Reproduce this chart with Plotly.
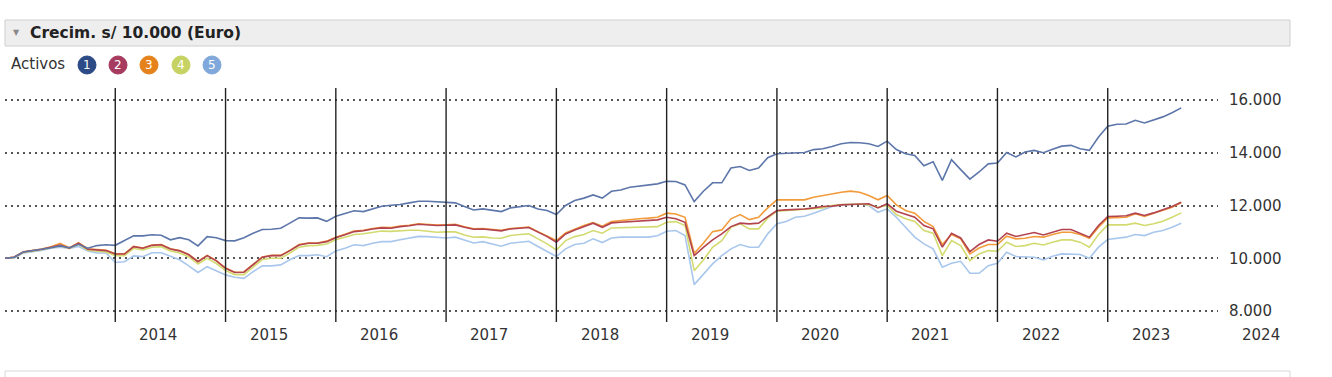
import plotly.graph_objects as go

# ---- data (monthly index 0..128) ----
years = ["2014", "2015", "2016", "2017", "2018", "2019", "2020", "2021", "2022", "2023", "2024"]
y_ticks = [8000, 10000, 12000, 14000, 16000]
y_tick_text = ["8.000", "10.000", "12.000", "14.000", "16.000"]
legend_labels = ["1", "2", "3", "4", "5"]

serie_1 = [10000,10040,10240,10280,10340,10400,10470,10400,10530,10380,
           10480,10510,10490,10670,10850,10850,10890,10870,10700,10780,
           10700,10470,10820,10780,10670,10660,10780,10950,11090,11100,
           11140,11330,11530,11520,11530,11400,11590,11700,11800,11770,
           11880,11970,12010,12040,12100,12160,
           12160,12140,12110,12100,11960,11830,11870,11810,11770,11910,
           11960,12000,11870,11810,11660,12000,12190,12280,12400,12280,
           12540,12590,12690,12730,12760,12820,12920,12910,12780,12150,
           12540,12860,12860,13420,13480,13330,13420,13810,13960,13970,
           13990,14010,14120,14150,
           14240,14340,14390,14380,14340,14240,14440,14120,13960,13900,
           13510,13660,12950,13740,13360,13000,13270,13580,13610,14010,
           13840,14030,14090,14000,14130,14250,14280,14150,14090,14600,
           15010,15080,15090,15230,15130,15250,15360,15520,15700]

serie_2 = [10000,10040,10240,10280,10340,10420,10500,10380,10570,10340,
           10320,10290,10160,10160,10440,10380,10490,10510,10350,10280,
           10130,9870,10100,9900,9620,9460,9470,9750,10040,10100,
           10100,10290,10500,10570,10570,10630,10780,10890,11010,11040,
           11110,11150,11140,11200,11230,11290,
           11265,11240,11250,11265,11175,11100,11110,11075,11040,11110,
           11150,11165,10990,10820,10610,10920,11075,11200,11330,11175,
           11340,11365,11390,11415,11430,11455,11555,11495,11365,10100,
           10415,10695,10925,11200,11330,11305,11330,11580,11810,11835,
           11845,11870,11910,11960,
           11975,12025,12040,12065,12065,11910,12065,11785,11660,11555,
           11240,11115,10420,10950,10770,10255,10520,10695,10645,10950,
           10825,10900,10975,10885,10985,11090,11090,10950,10800,11240,
           11585,11595,11610,11710,11620,11720,11835,11960,12125]

serie_3 = [10000,10050,10250,10290,10350,10440,10560,10400,10590,10360,
           10330,10300,10170,10170,10450,10390,10500,10520,10360,10290,
           10140,9880,10110,9910,9630,9470,9480,9760,10050,10110,
           10110,10300,10520,10580,10580,10650,10800,10910,11030,11060,
           11130,11170,11160,11220,11250,11310,
           11285,11260,11270,11285,11195,11120,11130,11095,11060,11130,
           11170,11185,11010,10840,
           10670,10960,11115,11240,11355,11215,11390,11430,11455,11495,
           11520,11555,11710,11680,11555,10190,10570,11010,11075,11495,
           11655,11465,11555,11910,12215,12215,12225,12215,12315,12380,
           12445,12505,12545,12505,12380,12215,12380,12025,11810,11710,
           11395,11205,10520,10900,10735,10165,10390,10520,10520,10835,
           10735,10760,10825,10800,10900,10985,10985,10900,10760,11175,
           11530,11530,11555,11685,11585,11710,11810,11935,12115]

serie_4 = [10000,10030,10220,10260,10320,10400,10470,10370,10530,10300,
           10260,10240,10100,10100,10370,10320,10420,10440,10280,10200,
           10050,9780,10000,9800,9530,9380,9380,9650,9950,10000,
           10000,10200,10420,10480,10490,10540,10700,10800,10900,10930,
           10990,11030,11020,11050,11060,11060,
           11010,10985,11000,11000,10885,10795,10810,10770,10760,10860,
           10900,10925,10735,10545,10315,10670,10820,10900,11050,10950,
           11150,11165,11175,11175,11190,11200,11365,11390,11240,9530,
           9935,10415,10670,11175,11305,11115,11115,11520,11785,11810,
           11810,11835,11870,11910,
           12000,12040,12050,12065,12025,11935,12000,11660,11495,11395,
           11050,10950,10100,10670,10480,9910,10165,10290,10265,10610,
           10445,10480,10570,10505,10610,10695,10695,10610,10420,10900,
           11265,11265,11265,11330,11240,11305,11405,11555,11720]

serie_5 = [10000,10000,10200,10240,10300,10380,10420,10370,10450,10280,
           10200,10200,9840,9870,10090,10060,10210,10210,10060,9940,
           9710,9460,9680,9520,9370,9280,9240,9490,9710,9710,
           9750,9940,10100,10100,10130,10060,10280,10380,10510,10480,
           10570,10630,10630,10700,10760,10830,
           10820,10800,10770,10800,10695,10580,10630,10545,10455,10570,
           10595,10645,10445,10265,10065,10355,10520,10570,10735,10595,
           10770,10800,10800,10800,10800,10850,11025,11050,10860,9000,
           9405,9785,10100,10355,10520,10415,10415,10925,11305,11390,
           11555,11595,11710,11835,
           11960,12025,12040,12065,12000,11745,11875,11555,11175,10800,
           10545,10355,9660,9810,9885,9430,9430,9720,9810,10230,
           10065,10040,10040,9935,10075,10165,10165,10140,10000,10420,
           10710,10760,10800,10900,10860,10985,11050,11175,11330]

series = [serie_1, serie_2, serie_3, serie_4, serie_5]
line_colors = ["#5d76aa", "#b3444f", "#f29b3a", "#d3db70", "#a9c7ec"]
dot_colors = ["#2b4a86", "#a63a5f", "#e5821c", "#c6d262", "#80a8da"]

# ---- geometry helpers (pixel -> paper) ----
W, H = 1332, 377
L, R, T, B = 5, 1218, 88, 322
X_MAX = 132
def px(x):
    return (x - L) / (R - L)
def py(y):
    return (B - y) / (B - T)

fig = go.Figure()
for k in [4, 3, 2, 1, 0]:
    s = series[k]
    fig.add_trace(go.Scatter(
        x=list(range(len(s))), y=s, mode="lines",
        line=dict(color=line_colors[k], width=1.6),
        hoverinfo="skip", showlegend=False))

shapes = []
for k in range(1, 11):
    shapes.append(dict(type="line", xref="x", yref="paper", x0=12 * k, x1=12 * k,
                       y0=0, y1=1, line=dict(color="#222222", width=1.4)))
shapes.append(dict(type="rect", xref="paper", yref="paper", x0=px(5), x1=px(1290),
                   y0=py(46), y1=py(20), fillcolor="#eeeeee",
                   line=dict(color="#cfcfcf", width=1), layer="below"))
shapes.append(dict(type="rect", xref="paper", yref="paper", x0=px(5), x1=px(1290),
                   y0=py(385), y1=py(371), fillcolor="rgba(0,0,0,0)",
                   line=dict(color="#d8d8d8", width=1)))
circle_x = [87, 118, 149, 181, 212]
r = 9
for cx, col in zip(circle_x, dot_colors):
    shapes.append(dict(type="circle", xref="paper", yref="paper",
                       x0=px(cx - r), x1=px(cx + r), y0=py(65 + r), y1=py(65 - r),
                       fillcolor=col, line=dict(color=col, width=1)))

annotations = []
annotations.append(dict(xref="paper", yref="paper", x=px(16), y=py(33), text="▼",
                        showarrow=False, font=dict(size=8, color="#8a8a8a"),
                        xanchor="center", yanchor="middle"))
annotations.append(dict(xref="paper", yref="paper", x=px(28), y=py(33),
                        text="<b>Crecim. s/ 10.000 (Euro)</b>", showarrow=False,
                        font=dict(size=15.5, color="#222222", family="DejaVu Sans"),
                        xanchor="left", yanchor="middle"))
annotations.append(dict(xref="paper", yref="paper", x=px(9), y=py(64), text="Activos",
                        showarrow=False, font=dict(size=15, color="#333333", family="DejaVu Sans"),
                        xanchor="left", yanchor="middle"))
for cx, lab in zip(circle_x, legend_labels):
    annotations.append(dict(xref="paper", yref="paper", x=px(cx), y=py(65), text=lab,
                            showarrow=False, font=dict(size=12, color="#ffffff", family="DejaVu Sans"),
                            xanchor="center", yanchor="middle"))
for k, yr in enumerate(years):
    annotations.append(dict(xref="paper", yref="paper", x=(16.7 + 12 * k) / X_MAX, y=py(335),
                            text=yr, showarrow=False,
                            font=dict(size=15, color="#333333", family="DejaVu Sans"),
                            xanchor="center", yanchor="middle"))

fig.update_layout(
    width=W, height=H,
    margin=dict(l=L, r=W - R, t=T, b=H - B),
    paper_bgcolor="white", plot_bgcolor="white",
    shapes=shapes, annotations=annotations, showlegend=False,
    font=dict(family="DejaVu Sans", size=15, color="#333333"),
    xaxis=dict(range=[0, X_MAX], showgrid=False, zeroline=False, showticklabels=False,
               showline=False, ticks=""),
    yaxis=dict(range=[7583, 16455], side="right", tickvals=y_ticks, ticktext=y_tick_text,
               showgrid=True, gridcolor="#555555", griddash="2px,4px", gridwidth=1.5,
               zeroline=False, showline=False, ticks="", ticklabelstandoff=10,
               tickfont=dict(size=15, color="#333333", family="DejaVu Sans")),
)

fig.write_html("out.html", config={"displayModeBar": False},
               post_script="document.body.style.margin='0px';")
